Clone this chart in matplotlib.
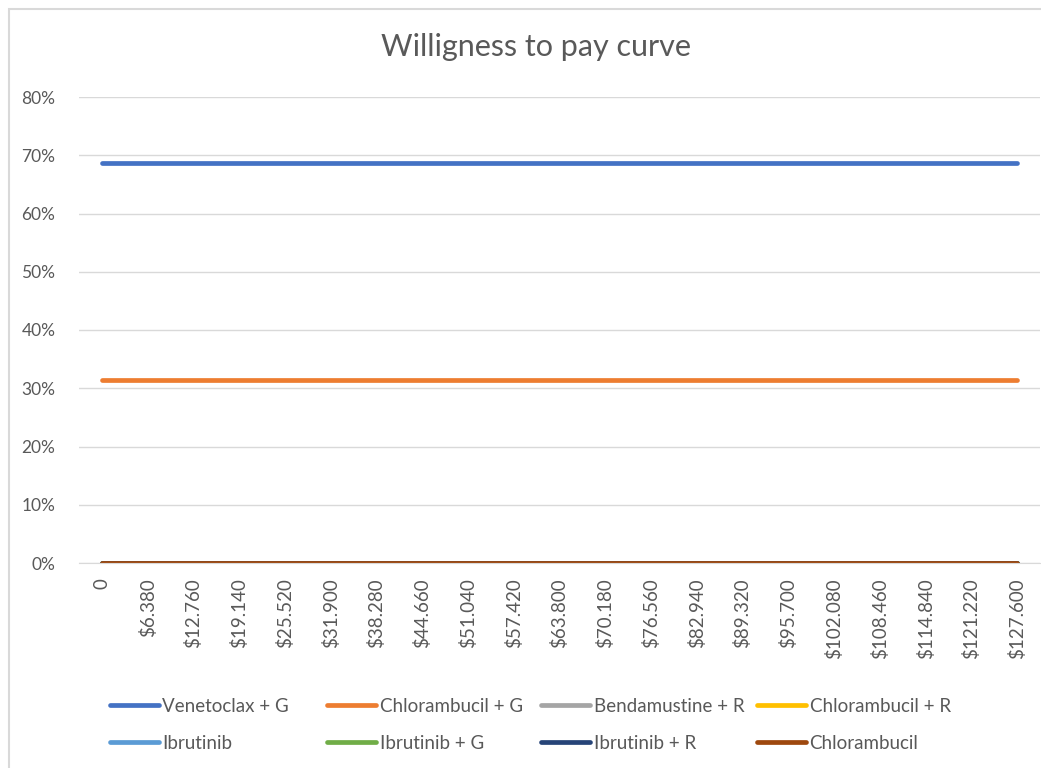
import matplotlib
matplotlib.use("Agg")
import matplotlib.pyplot as plt
from matplotlib.patches import Rectangle
from matplotlib.ticker import PercentFormatter

# price points on the category axis
price_labels = ["0", "$6.380", "$12.760", "$19.140", "$25.520", "$31.900",
                "$38.280", "$44.660", "$51.040", "$57.420", "$63.800",
                "$70.180", "$76.560", "$82.940", "$89.320", "$95.700",
                "$102.080", "$108.460", "$114.840", "$121.220", "$127.600"]
n = len(price_labels)

# probability of being cost-effective (flat lines)
venetoclax_g = [0.686] * n
chlorambucil_g = [0.314] * n
bendamustine_r = [0.0] * n
chlorambucil_r = [0.0] * n
ibrutinib = [0.0] * n
ibrutinib_g = [0.0] * n
ibrutinib_r = [0.0] * n
chlorambucil = [0.0] * n

series_names = ["Venetoclax + G", "Chlorambucil + G", "Bendamustine + R",
                "Chlorambucil + R", "Ibrutinib", "Ibrutinib + G",
                "Ibrutinib + R", "Chlorambucil"]
series_values = [venetoclax_g, chlorambucil_g, bendamustine_r, chlorambucil_r,
                 ibrutinib, ibrutinib_g, ibrutinib_r, chlorambucil]
colors = ["#4472C4", "#ED7D31", "#A5A5A5", "#FFC000",
          "#5B9BD5", "#70AD47", "#264478", "#9E480E"]

plt.rcParams["font.family"] = ["Lato", "DejaVu Sans"]
text_color = "#595959"
grid_color = "#D9D9D9"

W, H = 1041, 768
fig = plt.figure(figsize=(W / 100, H / 100), dpi=100)
ax = fig.add_axes([79 / W, (H - 563) / H, (1040 - 79) / W, (563 - 97) / H])

x = list(range(n))
handles = []
for name, vals, c in zip(series_names, series_values, colors):
    h, = ax.plot(x, vals, color=c, linewidth=3.4, solid_capstyle="round", label=name)
    handles.append(h)

ax.set_xlim(-0.5, n - 0.5)
ax.set_ylim(0, 0.8)
ax.set_yticks([i / 10 for i in range(9)])
ax.yaxis.set_major_formatter(PercentFormatter(1.0, decimals=0))
ax.set_xticks(x)
ax.set_xticklabels(price_labels, rotation=90, va="top", ha="center")
ax.tick_params(axis="both", length=0, colors=text_color)
ax.tick_params(axis="y", pad=17, labelsize=12.5)
ax.tick_params(axis="x", pad=11, labelsize=13.5)
ax.grid(axis="y", color=grid_color, linewidth=1)
ax.set_axisbelow(True)
for side in ["left", "right", "top"]:
    ax.spines[side].set_visible(False)
ax.spines["bottom"].set_color(grid_color)

fig.text(536 / W, (H - 47) / H, "Willigness to pay curve", ha="center", va="center",
         fontsize=22, color=text_color)

# legend: Excel lays it out row by row in even columns, so one small legend per column
col_x = [110, 327, 541, 757]
for k, cx in enumerate(col_x):
    idx = [k, k + 4]
    leg = fig.legend([handles[i] for i in idx], [series_names[i] for i in idx],
                     loc="upper left", bbox_to_anchor=(cx / W, (H - 698) / H),
                     frameon=False, fontsize=13.5, handlelength=2.6,
                     handletextpad=0.2, labelspacing=1.05, borderpad=0,
                     borderaxespad=0)
    for t in leg.get_texts():
        t.set_color(text_color)

# chart area border
fig.patches.append(Rectangle((8.5 / W, -0.1), 1.2, (H - 8.5) / H + 0.1,
                             transform=fig.transFigure, fill=False,
                             edgecolor=grid_color, linewidth=1.5))

fig.savefig("out.png", dpi=100)
